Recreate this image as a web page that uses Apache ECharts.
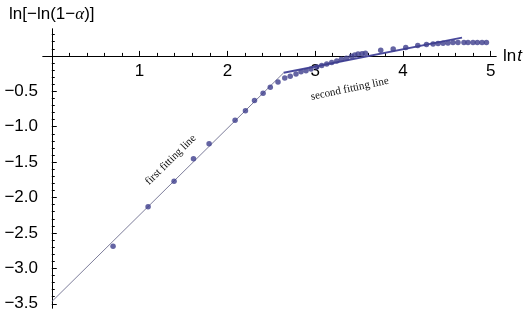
<!DOCTYPE html>
<html>
<head>
<meta charset="utf-8">
<script src="https://cdn.jsdelivr.net/npm/echarts@6/dist/echarts.min.js"></script>
<style>
html,body{margin:0;padding:0;background:#fff;}
#c{width:526px;height:315px;}
</style>
</head>
<body>
<div id="c"></div>
<script>
// data: ln t and ln[-ln(1-alpha)]
var lnT = [0.698,1.097,1.393,1.614,1.792,2.088,2.206,2.309,2.407,2.489,2.577,2.654,2.716,2.782,2.839,2.896,2.953,3.018,3.075,3.132,3.189,3.246,3.299,3.356,3.413,3.451,3.489,3.534,3.573,3.747,3.889,4.032,4.169,4.268,4.343,4.400,4.457,4.513,4.570,4.627,4.695,4.741,4.798,4.848,4.901,4.951];
var lnLn = [-2.688,-2.129,-1.770,-1.451,-1.239,-0.908,-0.773,-0.631,-0.527,-0.442,-0.367,-0.311,-0.287,-0.254,-0.222,-0.208,-0.184,-0.155,-0.134,-0.113,-0.092,-0.071,-0.047,-0.032,-0.004,0.014,0.028,0.032,0.038,0.081,0.099,0.120,0.148,0.160,0.169,0.174,0.179,0.184,0.188,0.188,0.188,0.188,0.188,0.188,0.188,0.188];
var fit1X = [0, 2.642];
var fit1Y = [-3.47, -0.238];
var fit2X = [2.642, 4.673];
var fit2Y = [-0.238, 0.258];
var xMajorTicks = [1,2,3,4,5];
var xMinorTicks = [0.2,0.4,0.6,0.8,1.2,1.4,1.6,1.8,2.2,2.4,2.6,2.8,3.2,3.4,3.6,3.8,4.2,4.4,4.6,4.8];
var yMajorTicks = [-3.5,-3,-2.5,-2,-1.5,-1,-0.5];
var yMinorTicks = [-3.4,-3.3,-3.2,-3.1,-2.9,-2.8,-2.7,-2.6,-2.4,-2.3,-2.2,-2.1,-1.9,-1.8,-1.7,-1.6,-1.4,-1.3,-1.2,-1.1,-0.9,-0.8,-0.7,-0.6,-0.4,-0.3,-0.2,-0.1,0.1,0.2,0.3];
var xTickLabels = ['1','2','3','4','5'];
var labels = [
  {text:'first fitting line', x:1.355, y:-1.469, angle:44.6},
  {text:'second fitting line', x:3.394, y:-0.466, angle:12}
];

function pairs(xs, ys){ return xs.map(function(v,i){ return [v, ys[i]]; }); }

var chart = echarts.init(document.getElementById('c'), null, {renderer:'canvas'});
var FONT = 'Liberation Sans, Arial, sans-serif';
var lineCol = '#000';
function xAx(ticks, len, extra){
  var o = {
    type:'value', min:-0.1, max:5.06, position:'bottom',
    axisLine:{show:true, onZero:true, onZeroAxisIndex:0, lineStyle:{color:lineCol, width:1}},
    axisTick:{show:true, inside:true, length:len, customValues:ticks, lineStyle:{color:lineCol, width:1}},
    axisLabel:{show:false},
    splitLine:{show:false}
  };
  for (var k in extra) o[k]=extra[k];
  return o;
}
function yAx(ticks, len, showLabel, extra){
  var o = {
    type:'value', min:-3.56, max:0.38, position:'left',
    axisLine:{show:true, onZero:true, onZeroAxisIndex:0, lineStyle:{color:lineCol, width:1}},
    axisTick:{show:true, inside:true, length:len, customValues:ticks, lineStyle:{color:lineCol, width:1}},
    axisLabel:{show:showLabel, customValues:ticks, margin:5, color:'#000', fontSize:17, fontFamily:FONT,
      formatter:function(v){ return v.toFixed(1).replace('-', '\u2212'); }},
    splitLine:{show:false}
  };
  for (var k in extra) o[k]=extra[k];
  return o;
}

var option = {
  animation:false,
  backgroundColor:'#fff',
  grid:{left:43, right:30, top:29, bottom:7, containLabel:false, outerBoundsMode:'none'},
  xAxis:[
    xAx(xMajorTicks, 5, {
      name:'{n|ln}{i|t}', nameLocation:'end', nameGap:7,
      nameTextStyle:{rich:{n:{fontSize:17, fontFamily:FONT, color:'#000'}, i:{fontSize:17, fontFamily:FONT, fontStyle:'italic', color:'#000', padding:[0,0,0,1]}}}
    }),
    xAx(xMinorTicks, 3, {})
  ],
  yAxis:[
    yAx(yMajorTicks, 5, true, {
      name:'{n|ln[\u2212ln(1\u2212}{i|\u03b1}{n|)]}', nameLocation:'end', nameGap:6,
      nameTextStyle:{rich:{n:{fontSize:17, fontFamily:FONT, color:'#000'}, i:{fontSize:17, fontFamily:'Liberation Serif, serif', fontStyle:'italic', color:'#000'}}}
    }),
    yAx(yMinorTicks, 3, false, {})
  ],
  series:[
    {type:'line', xAxisIndex:0, yAxisIndex:0, data:pairs(fit1X, fit1Y), showSymbol:false, symbol:'none',
      lineStyle:{color:'#6e6e8e', width:0.9}, z:2},
    {type:'line', xAxisIndex:0, yAxisIndex:0, data:pairs(fit2X, fit2Y), showSymbol:false, symbol:'none',
      lineStyle:{color:'#4a4a9c', width:2}, z:2},
    {type:'scatter', xAxisIndex:0, yAxisIndex:0, data:pairs(lnT, lnLn), symbol:'circle', symbolSize:5.5,
      itemStyle:{color:'#3d3d8c'}, z:3}
  ]
};
chart.setOption(option);

var g = labels.map(function(l){
  var p = chart.convertToPixel({xAxisIndex:0, yAxisIndex:0}, [l.x, l.y]);
  return {
    type:'text', x:p[0], y:p[1], rotation:l.angle*Math.PI/180,
    style:{text:l.text, font:'11px "Liberation Serif", "Times New Roman", serif', fill:'#111',
      textAlign:'center', textVerticalAlign:'middle', align:'center', verticalAlign:'middle'}
  };
});
// x tick labels placed at the tick values on the zero line
xMajorTicks.forEach(function(v, i){
  var p = chart.convertToPixel({xAxisIndex:0, yAxisIndex:0}, [v, 0]);
  g.push({
    type:'text', x:p[0], y:p[1] + 7,
    style:{text:xTickLabels[i], font:'17px ' + FONT, fill:'#000',
      textAlign:'center', textVerticalAlign:'top', align:'center', verticalAlign:'top'}
  });
});
chart.setOption({graphic:g});
</script>
</body>
</html>
